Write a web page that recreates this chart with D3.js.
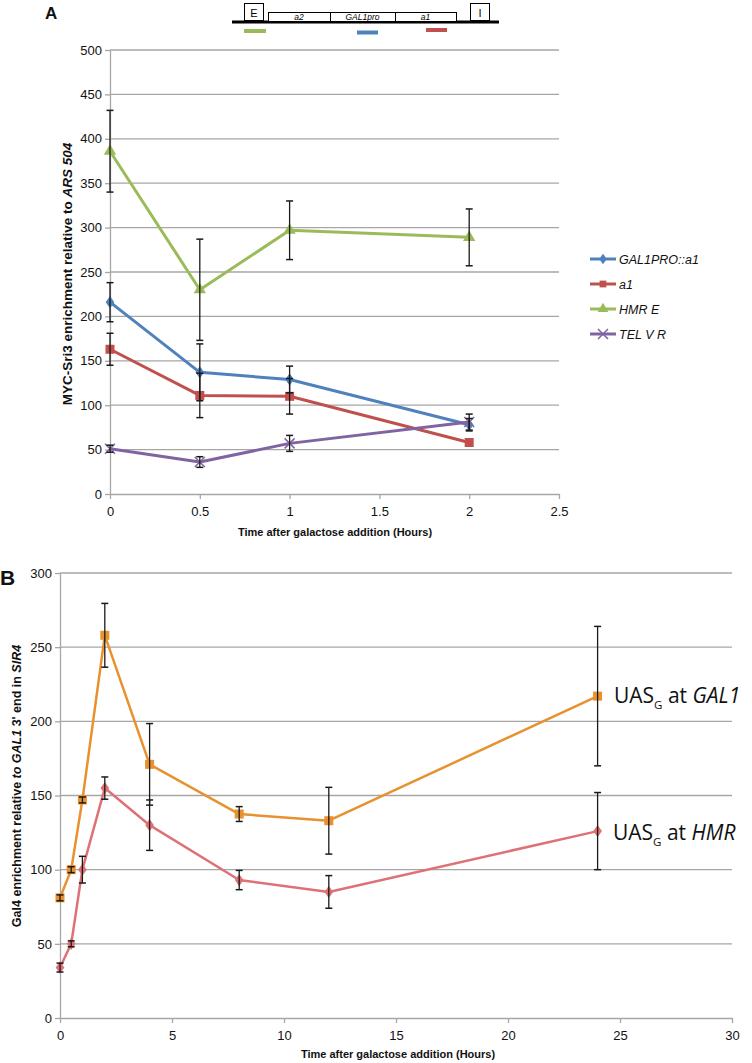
<!DOCTYPE html>
<html><head><meta charset="utf-8">
<script src="https://cdn.jsdelivr.net/npm/d3@7"></script>
<style>body{margin:0;background:#fff}svg{display:block}</style>
</head><body>
<script>
// ---------- Panel A data ----------
const timesA = [0, 0.5, 1, 2];
const xTicksA = [0, 0.5, 1, 1.5, 2, 2.5];
const yTicksA = [0, 50, 100, 150, 200, 250, 300, 350, 400, 450, 500];
const seriesNamesA = ["GAL1PRO::a1", "a1", "HMR E", "TEL V R"];
const gal1proVals = [216, 137, 129, 78];
const gal1proErr  = [22, 32, 15, 7];
const a1Vals      = [163, 111, 110, 58];
const a1Err       = [18, 25, 20, 0];
const hmrEVals    = [386, 230, 297, 289];
const hmrEErr     = [46, 57, 33, 32];
const telVals     = [51, 36, 57, 81];
const telErr      = [4, 6, 9, 9];
const colorsA = ["#4F81BD", "#C0504D", "#9BBB59", "#8064A2"];

// ---------- Panel B data ----------
const timesB = [0, 0.5, 1, 2, 4, 8, 12, 24];
const xTicksB = [0, 5, 10, 15, 20, 25, 30];
const yTicksB = [0, 50, 100, 150, 200, 250, 300];
const gal1Vals = [81, 100, 147, 258, 171, 137.5, 133, 217];
const gal1Err  = [2, 2, 2, 21.5, 27.5, 5, 22.5, 47];
const hmrVals  = [34, 50, 100, 155, 130, 93, 85, 126];
const hmrErr   = [3, 2, 9, 7.5, 17, 6.5, 11, 26];
const colorsB = ["#E8912F", "#DE7176"];

const W = 752, H = 1063;
const FONT = "'Liberation Sans', Arial, sans-serif";
const svg = d3.select("body").append("svg").attr("width", W).attr("height", H)
  .style("font-family", FONT);

function panel(cfg) {
  const g = svg.append("g");
  const x = d3.scaleLinear().domain(cfg.xDomain).range([cfg.x0, cfg.x1]);
  const y = d3.scaleLinear().domain(cfg.yDomain).range([cfg.y0, cfg.y1]);
  g.selectAll("line.grid").data(cfg.yTicks.filter(d => d > 0)).enter().append("line")
    .attr("x1", cfg.x0).attr("x2", cfg.x1).attr("y1", d => y(d)).attr("y2", d => y(d))
    .attr("stroke", "#a6a6a6").attr("stroke-width", 1.3);
  const ya = g.append("g").attr("transform", `translate(${cfg.x0},0)`)
    .call(d3.axisLeft(y).tickValues(cfg.yTicks).tickSize(5).tickSizeOuter(0).tickFormat(d3.format("d")));
  ya.select(".domain").attr("stroke", "#a6a6a6").attr("stroke-width", 1.3);
  ya.selectAll(".tick line").attr("stroke", "#a6a6a6").attr("stroke-width", 1.3);
  ya.selectAll(".tick text").attr("font-size", 13).attr("font-family", FONT).attr("fill", "#111").attr("x", -8);
  const xa = g.append("g").attr("transform", `translate(0,${cfg.y0})`)
    .call(d3.axisBottom(x).tickValues(cfg.xTicks).tickSize(5).tickSizeOuter(0).tickFormat(d => String(d)));
  xa.select(".domain").attr("stroke", "#a6a6a6").attr("stroke-width", 1.3);
  xa.selectAll(".tick line").attr("stroke", "#a6a6a6").attr("stroke-width", 1.3);
  xa.selectAll(".tick text").attr("font-size", 13).attr("font-family", FONT).attr("fill", "#111").attr("dy", "1.1em");
  return {g, x, y};
}

// ---------- Panel A ----------
const A = panel({xDomain: [0, 2.5], yDomain: [0, 500], x0: 110, x1: 559, y0: 494, y1: 50,
  xTicks: xTicksA, yTicks: yTicksA});
const seriesA = [
  {vals: gal1proVals, err: gal1proErr, c: colorsA[0], m: "diamond"},
  {vals: a1Vals, err: a1Err, c: colorsA[1], m: "square"},
  {vals: hmrEVals, err: hmrEErr, c: colorsA[2], m: "triangle"},
  {vals: telVals, err: telErr, c: colorsA[3], m: "x"}
];
function marker(g, type, cx, cy, c, s) {
  if (type === "diamond") g.append("path").attr("d", d3.symbol(d3.symbolDiamond, s * 9)()).attr("transform", `translate(${cx},${cy}) scale(1.1,0.9)`).attr("fill", c);
  else if (type === "square") g.append("rect").attr("x", cx - s * 0.75).attr("y", cy - s * 0.75).attr("width", s * 1.5).attr("height", s * 1.5).attr("fill", c);
  else if (type === "triangle") g.append("path").attr("d", d3.symbol(d3.symbolTriangle, s * 11)()).attr("transform", `translate(${cx},${cy})`).attr("fill", c);
  else if (type === "x") {
    g.append("path").attr("d", `M${cx - 5},${cy - 5}L${cx + 5},${cy + 5}M${cx - 5},${cy + 5}L${cx + 5},${cy - 5}`).attr("stroke", c).attr("stroke-width", 1.5);
  }
}
function drawSeries(P, times, s, lw, ms) {
  const line = d3.line().x((d, i) => P.x(times[i])).y(d => P.y(d));
  P.g.append("path").datum(s.vals).attr("d", line).attr("fill", "none").attr("stroke", s.c).attr("stroke-width", lw).attr("stroke-linejoin", "round");
  s.vals.forEach((v, i) => marker(P.g, s.m, P.x(times[i]), P.y(v), s.c, ms));
}
function drawErr(P, times, s) {
  s.vals.forEach((v, i) => {
    if (!s.err[i]) return;
    const cx = P.x(times[i]), t = P.y(v + s.err[i]), b = P.y(v - s.err[i]);
    P.g.append("line").attr("x1", cx).attr("x2", cx).attr("y1", t).attr("y2", b).attr("stroke", "#1a1a1a").attr("stroke-width", 1.3);
    [t, b].forEach(yy => P.g.append("line").attr("x1", cx - 3.5).attr("x2", cx + 3.5).attr("y1", yy).attr("y2", yy).attr("stroke", "#1a1a1a").attr("stroke-width", 1.5));
  });
}
seriesA.forEach(s => drawSeries(A, timesA, s, 3, 6));
seriesA.forEach(s => drawErr(A, timesA, s));

// Legend A
seriesNamesA.forEach((n, i) => {
  const ly = 259 + i * 25;
  svg.append("line").attr("x1", 590).attr("x2", 616).attr("y1", ly).attr("y2", ly).attr("stroke", colorsA[i]).attr("stroke-width", 3);
  marker(svg, seriesA[i].m, 603, ly, colorsA[i], 4.5);
  svg.append("text").attr("x", 619).attr("y", ly + 4.5).attr("font-size", 12.5).attr("font-style", "italic").attr("fill", "#111").text(n);
});

// Axis titles A
svg.append("text").attr("x", 335).attr("y", 536).attr("text-anchor", "middle").attr("font-size", 11).attr("font-weight", "bold").attr("fill", "#111").text("Time after galactose addition (Hours)");
const ytA = svg.append("text").attr("transform", "translate(72,274) rotate(-90)").attr("text-anchor", "middle").attr("font-size", 13.5).attr("font-weight", "bold").attr("fill", "#111");
ytA.append("tspan").text("MYC-Sri3 enrichment relative to ");
ytA.append("tspan").attr("font-style", "italic").text("ARS 504");

svg.append("text").attr("x", 45).attr("y", 19).attr("font-size", 17).attr("font-weight", "bold").attr("fill", "#111").text("A");

// Diagram
const dg = svg.append("g");
dg.append("line").attr("x1", 232).attr("x2", 499).attr("y1", 22).attr("y2", 22).attr("stroke", "#000").attr("stroke-width", 3);
dg.append("rect").attr("x", 244.5).attr("y", 3.5).attr("width", 19).attr("height", 17).attr("fill", "#fff").attr("stroke", "#000").attr("stroke-width", 1);
dg.append("text").attr("x", 254).attr("y", 17).attr("text-anchor", "middle").attr("font-size", 11).text("E");
dg.append("rect").attr("x", 470.5).attr("y", 3.5).attr("width", 19).attr("height", 17).attr("fill", "#fff").attr("stroke", "#000").attr("stroke-width", 1);
dg.append("text").attr("x", 480).attr("y", 17).attr("text-anchor", "middle").attr("font-size", 11).text("I");
[[268, 330, "a2"], [330, 395, "GAL1pro"], [395, 456, "a1"]].forEach(b => {
  dg.append("rect").attr("x", b[0] + 0.5).attr("y", 12.5).attr("width", b[1] - b[0]).attr("height", 9).attr("fill", "#fff").attr("stroke", "#000").attr("stroke-width", 1);
  dg.append("text").attr("x", (b[0] + b[1]) / 2).attr("y", 20).attr("text-anchor", "middle").attr("font-size", 8.5).attr("font-style", "italic").text(b[2]);
});
[[244, 266, 31, colorsA[2]], [357, 378, 32.5, colorsA[0]], [426, 447, 30, colorsA[1]]].forEach(b => {
  dg.append("line").attr("x1", b[0]).attr("x2", b[1]).attr("y1", b[2]).attr("y2", b[2]).attr("stroke", b[3]).attr("stroke-width", 4);
});

// ---------- Panel B ----------
const B = panel({xDomain: [0, 30], yDomain: [0, 300], x0: 60, x1: 732, y0: 1018, y1: 573,
  xTicks: xTicksB, yTicks: yTicksB});
const seriesB = [
  {vals: gal1Vals, err: gal1Err, c: colorsB[0], m: "square"},
  {vals: hmrVals, err: hmrErr, c: colorsB[1], m: "diamond"}
];
seriesB.forEach(s => drawSeries(B, timesB, s, 2.5, 6));
seriesB.forEach(s => drawErr(B, timesB, s));

svg.append("text").attr("x", 398).attr("y", 1058).attr("text-anchor", "middle").attr("font-size", 11).attr("font-weight", "bold").attr("fill", "#111").text("Time after galactose addition (Hours)");
const ytB = svg.append("text").attr("transform", "translate(21,786) rotate(-90)").attr("text-anchor", "middle").attr("font-size", 12.5).attr("font-weight", "bold").attr("fill", "#111");
ytB.append("tspan").text("Gal4 enrichment relative ");
ytB.append("tspan").attr("font-style", "italic").text("to GAL1");
ytB.append("tspan").text(" 3' end in ");
ytB.append("tspan").attr("font-style", "italic").text("SIR4");

svg.append("text").attr("x", 0).attr("y", 585).attr("font-size", 21).attr("font-weight", "bold").attr("fill", "#111").text("B");

function uasLabel(x, yb, gene) {
  const t = svg.append("text").attr("x", x).attr("y", yb).style("font-family", "'Open Sans', sans-serif").attr("font-size", 21).attr("fill", "#111");
  t.append("tspan").text("UAS");
  t.append("tspan").attr("font-size", 11.5).attr("dy", 6).text("G");
  t.append("tspan").attr("dy", -6).text(" at ");
  t.append("tspan").attr("font-style", "italic").text(gene);
}
uasLabel(614, 703, "GAL1");
uasLabel(613, 840, "HMR");
</script>
</body></html>
